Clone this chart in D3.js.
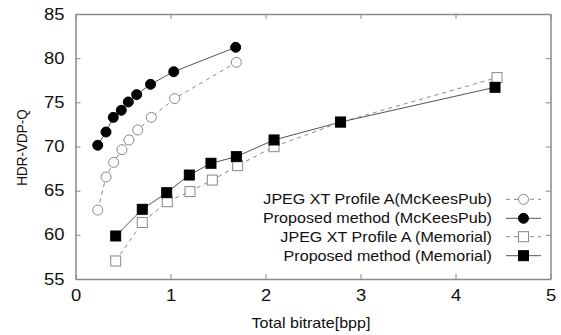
<!DOCTYPE html>
<html>
<head>
<meta charset="utf-8">
<script src="https://cdn.jsdelivr.net/npm/d3@7"></script>
<style>
  body { margin: 0; background: #fff; }
  text { font-family: "Liberation Sans", Arial, sans-serif; fill: #111; }
</style>
</head>
<body>
<div id="chart"></div>
<script>
// values
const mckXtRate = [0.234, 0.321, 0.402, 0.489, 0.563, 0.655, 0.798, 1.044, 1.693];
const mckXtQ = [62.8, 66.55, 68.2, 69.64, 70.74, 71.87, 73.3, 75.42, 79.53];
const mckPropRate = [0.234, 0.321, 0.398, 0.482, 0.556, 0.644, 0.79, 1.034, 1.686];
const mckPropQ = [70.14, 71.64, 73.3, 74.1, 75.04, 75.87, 77.04, 78.47, 81.23];
const memXtRate = [0.423, 0.703, 0.966, 1.205, 1.44, 1.707, 2.09, 2.79, 4.437];
const memXtQ = [57.04, 61.4, 63.75, 64.9, 66.2, 67.83, 69.98, 72.75, 77.8];
const memPropRate = [0.423, 0.703, 0.96, 1.198, 1.426, 1.693, 2.09, 2.79, 4.416];
const memPropQ = [59.87, 62.89, 64.77, 66.77, 68.1, 68.85, 70.74, 72.77, 76.7];

const xTicks = [0, 1, 2, 3, 4, 5];
const yTicks = [55, 60, 65, 70, 75, 80, 85];

const series = [
  { name: "JPEG XT Profile A(McKeesPub)", x: mckXtRate, y: mckXtQ, shape: "circle", filled: false },
  { name: "Proposed method (McKeesPub)", x: mckPropRate, y: mckPropQ, shape: "circle", filled: true },
  { name: "JPEG XT Profile A (Memorial)", x: memXtRate, y: memXtQ, shape: "square", filled: false },
  { name: "Proposed method (Memorial)", x: memPropRate, y: memPropQ, shape: "square", filled: true }
];

const width = 561, height = 335;
const margin = { left: 75.5, right: 10.5, top: 14, bottom: 56 };
const stretch = 1.15; // the original figure is a bit wider than tall

const svg = d3.select("#chart").append("svg")
  .attr("width", width).attr("height", height);

const x = d3.scaleLinear().domain([0, 5]).range([margin.left, width - margin.right]);
const y = d3.scaleLinear().domain([55, 85]).range([height - margin.bottom, margin.top]);

const frameColor = "#8a8a8a";

// widen text around its anchor point
function widen(sel) {
  sel.each(function () {
    const t = d3.select(this);
    const tx = +t.attr("x") || 0;
    t.attr("transform", `translate(${tx},0) scale(${stretch},1) translate(${-tx},0)`);
  });
}

// ticks on all four sides, pointing inwards
const gAxes = svg.append("g");
gAxes.append("g").attr("transform", `translate(0,${y(55)})`)
  .call(d3.axisBottom(x).tickValues(xTicks).tickSizeInner(-5).tickSizeOuter(0).tickPadding(11).tickFormat(d3.format("d")));
gAxes.append("g").attr("transform", `translate(0,${y(85)})`)
  .call(d3.axisTop(x).tickValues(xTicks).tickSizeInner(-5).tickSizeOuter(0).tickFormat(""));
gAxes.append("g").attr("transform", `translate(${x(0)},0)`)
  .call(d3.axisLeft(y).tickValues(yTicks).tickSizeInner(-5).tickSizeOuter(0).tickPadding(11).tickFormat(d3.format("d")));
gAxes.append("g").attr("transform", `translate(${x(5)},0)`)
  .call(d3.axisRight(y).tickValues(yTicks).tickSizeInner(-5).tickSizeOuter(0).tickFormat(""));

gAxes.selectAll(".domain").attr("stroke", frameColor).attr("stroke-width", 1.5);
gAxes.selectAll(".tick line").attr("stroke", frameColor);
gAxes.selectAll(".tick text").attr("font-size", 16).attr("fill", "#111")
  .attr("font-family", "Liberation Sans, Arial, sans-serif")
  .call(widen);

// axis titles
svg.append("text").attr("x", x(2.5) - 2).attr("y", 328)
  .attr("text-anchor", "middle").attr("font-size", 14).text("Total bitrate[bpp]")
  .call(widen);
svg.append("text")
  .attr("transform", `translate(26.5,${y(70) + 1}) rotate(-90) scale(1,${stretch})`)
  .attr("text-anchor", "middle").attr("font-size", 13.5).text("HDR-VDP-Q");

function drawMarker(g, s, cx, cy) {
  const fill = s.filled ? "#000" : "#fff";
  const stroke = s.filled ? "#000" : "#888";
  if (s.shape === "circle") {
    g.append("circle").attr("cx", cx).attr("cy", cy).attr("r", 5)
      .attr("fill", fill).attr("stroke", stroke).attr("stroke-width", 1);
  } else {
    g.append("rect").attr("x", cx - 5).attr("y", cy - 5).attr("width", 10).attr("height", 10)
      .attr("fill", fill).attr("stroke", stroke).attr("stroke-width", 1);
  }
}

const line = d3.line().x(d => x(d[0])).y(d => y(d[1]));

series.forEach(s => {
  const pts = s.x.map((v, i) => [v, s.y[i]]);
  svg.append("path").datum(pts)
    .attr("d", line)
    .attr("fill", "none")
    .attr("stroke", s.filled ? "#555" : "#888")
    .attr("stroke-width", 1)
    .attr("stroke-dasharray", s.filled ? null : "4,4");
});

series.forEach(s => {
  const g = svg.append("g");
  s.x.forEach((v, i) => drawMarker(g, s, x(v), y(s.y[i])));
});

// legend
const legendRows = [199.3, 218.3, 236.7, 255.7];
series.forEach((s, i) => {
  const ly = legendRows[i];
  svg.append("text").attr("x", 492).attr("y", ly).attr("dy", "0.36em")
    .attr("text-anchor", "end").attr("font-size", 14).text(s.name)
    .call(widen);
  svg.append("line").attr("x1", 506).attr("x2", 541).attr("y1", ly).attr("y2", ly)
    .attr("stroke", s.filled ? "#555" : "#888").attr("stroke-width", 1)
    .attr("stroke-dasharray", s.filled ? null : "4,4");
  drawMarker(svg.append("g"), s, 523.5, ly);
});
</script>
</body>
</html>
